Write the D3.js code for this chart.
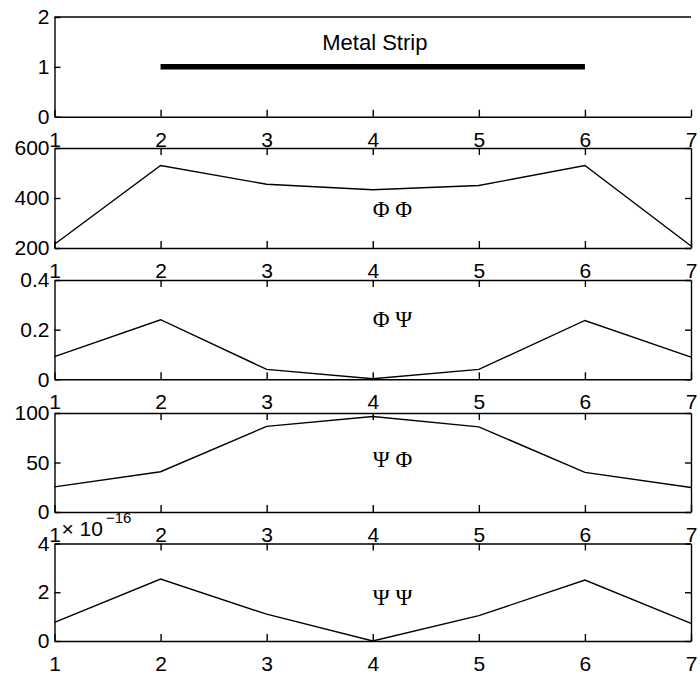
<!DOCTYPE html>
<meta charset="utf-8">
<style>
body{ margin:0; background:#fff; }
svg{ display:block; }
.axis path, .axis line{ stroke:#000; stroke-width:1.4px; }
.axis text{ font-family:"Liberation Sans", Arial, sans-serif; font-size:21px; fill:#000; }
.curve{ fill:none; stroke:#000; stroke-width:1.4px; }
.greek{ font-family:"Liberation Serif", "Times New Roman", serif; font-size:23px; }
</style>
<body>
<script src="https://cdn.jsdelivr.net/npm/d3@7"></script>
<script>
// data
var xs      = [1, 2, 3, 4, 5, 6, 7];
var phiPhi  = [215, 530, 455, 433, 450, 530, 208];
var phiPsi  = [0.091, 0.240, 0.040, 0.002, 0.040, 0.237, 0.089];
var psiPhi  = [25.4, 40.7, 86.5, 96.5, 86.0, 40.0, 24.7];
var psiPsi  = [0.76e-16, 2.54e-16, 1.10e-16, 0.0, 1.04e-16, 2.50e-16, 0.72e-16];
var stripX  = [2, 6];
var stripY  = 1;

var xTicks  = [1, 2, 3, 4, 5, 6, 7];
var yDomains = [[0, 2], [200, 600], [0, 0.4], [0, 100], [0, 4e-16]];
var yTicks   = [[0, 1, 2], [200, 400, 600], [0, 0.2, 0.4], [0, 50, 100], [0, 2e-16, 4e-16]];
var labels   = ["Metal Strip", "\u03A6 \u03A6", "\u03A6 \u03A8", "\u03A8 \u03A6", "\u03A8 \u03A8"];
var labelAt  = [[4.02, 1.34], [4.0, 323], [4.0, 0.212], [4.0, 45.8], [4.0, 1.49e-16]];
var series   = [null, phiPhi, phiPsi, psiPhi, psiPsi];

// layout
var W = 700, H = 678;
var left = 54.5, right = 691;
var tops    = [17, 148, 280, 413, 543.5];
var bottoms = [116.7, 248, 379.3, 512, 641];

var svg = d3.select("body").append("svg").attr("width", W).attr("height", H);
var x = d3.scaleLinear().domain([1, 7]).range([left, right]);

var fmt = [d3.format("d"), d3.format("d"), function(d){ return d === 0 ? "0" : d3.format(".1f")(d); },
           d3.format("d"), function(d){ return d3.format("d")(Math.round(d / 1e-16)); }];

tops.forEach(function(top, i){
  var y = d3.scaleLinear().domain(yDomains[i]).range([bottoms[i], top]);
  var g = svg.append("g");

  // bottom axis with labels
  g.append("g").attr("class", "axis")
    .attr("transform", "translate(0," + bottoms[i] + ")")
    .call(d3.axisBottom(x).tickValues(xTicks).tickSizeInner(-7).tickSizeOuter(0)
      .tickPadding(15).tickFormat(d3.format("d")));

  // top edge
  if (i === 0) {
    g.append("line").attr("class", "axis")
      .attr("x1", x(1)).attr("x2", x(7)).attr("y1", top).attr("y2", top)
      .style("stroke", "#000").style("stroke-width", 1.4);
  } else {
    g.append("g").attr("class", "axis")
      .attr("transform", "translate(0," + top + ")")
      .call(d3.axisTop(x).tickValues(xTicks.slice(1, 6)).tickSizeInner(-7).tickSizeOuter(0)
        .tickFormat(""));
    g.append("g").attr("class", "axis")
      .attr("transform", "translate(" + right + ",0)")
      .call(d3.axisRight(y).tickValues(yTicks[i]).tickSizeInner(-6).tickSizeOuter(0)
        .tickFormat(""));
  }

  // left axis with labels
  g.append("g").attr("class", "axis")
    .attr("transform", "translate(" + left + ",0)")
    .call(d3.axisLeft(y).tickValues(yTicks[i]).tickSizeInner(-6).tickSizeOuter(0)
      .tickPadding(5).tickFormat(fmt[i]));

  g.selectAll(".axis").attr("font-family", null).attr("font-size", null);

  if (i === 0) {
    g.append("line")
      .attr("x1", x(stripX[0])).attr("x2", x(stripX[1]))
      .attr("y1", y(stripY)).attr("y2", y(stripY))
      .style("stroke", "#000").style("stroke-width", 5.5);
    g.append("text")
      .attr("x", x(labelAt[0][0])).attr("y", y(labelAt[0][1]))
      .attr("text-anchor", "middle")
      .style("font-family", "'Liberation Sans', Arial, sans-serif").style("font-size", "22px")
      .text(labels[0]);
  } else {
    var line = d3.line().x(function(d, k){ return x(xs[k]); }).y(function(d){ return y(d); });
    g.append("path").attr("class", "curve").attr("d", line(series[i]));
    g.append("text").attr("class", "greek")
      .attr("x", x(labelAt[i][0])).attr("y", y(labelAt[i][1]))
      .text(labels[i]);
  }

  if (i === 4) {
    // exponent label, nudged right of the "1" tick label above it
    var ex = g.append("text")
      .attr("x", left + 7).attr("y", top - 8)
      .style("font-family", "'Liberation Sans', Arial, sans-serif").style("font-size", "21px");
    ex.append("tspan").text("\u00D7 10");
    ex.append("tspan").attr("dy", -13).attr("dx", 3).style("font-size", "15px").text("\u221216");
  }
});
</script>
</body>
